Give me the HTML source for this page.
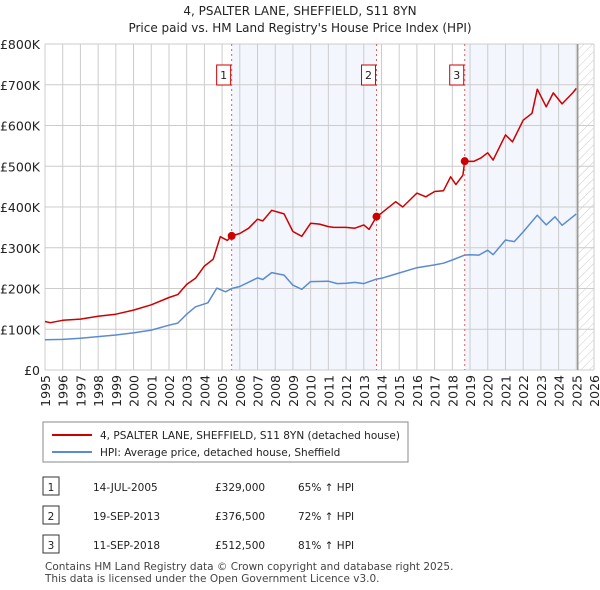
<!DOCTYPE html>
<html><head><meta charset="utf-8"><style>
body{margin:0;background:#fff;font-family:"DejaVu Sans",sans-serif;}
#wrap{position:relative;width:600px;height:590px;overflow:hidden;}
</style></head><body>
<div id="wrap">
<svg id="chart" width="600" height="590" xmlns="http://www.w3.org/2000/svg" font-family="DejaVu Sans, sans-serif">
<defs><pattern id="hatch" width="6" height="6" patternUnits="userSpaceOnUse" patternTransform="rotate(45)"><line x1="0" y1="0" x2="0" y2="6" stroke="#ccc" stroke-width="1"/></pattern></defs>
<text x="300" y="15" text-anchor="middle" font-size="12" fill="#222">4, PSALTER LANE, SHEFFIELD, S11 8YN</text>
<text x="300" y="32" text-anchor="middle" font-size="12" fill="#222">Price paid vs. HM Land Registry's House Price Index (HPI)</text>
<g id="shade"></g><g id="grid"></g><g id="axes"></g><g id="series"></g><g id="markers"></g>
<g>
<rect x="43" y="422" width="365" height="40" fill="#fff" stroke="#888"/>
<line x1="52" y1="435" x2="92" y2="435" stroke="#cc0000" stroke-width="2"/>
<text x="100" y="439" font-size="10.5" fill="#222">4, PSALTER LANE, SHEFFIELD, S11 8YN (detached house)</text>
<line x1="52" y1="452" x2="92" y2="452" stroke="#5b8bd0" stroke-width="2"/>
<text x="100" y="456" font-size="10.5" fill="#222">HPI: Average price, detached house, Sheffield</text>
</g>
<g id="table" font-size="10.5" fill="#222"></g>
<text x="45" y="570" font-size="10.5" fill="#444">Contains HM Land Registry data © Crown copyright and database right 2025.</text>
<text x="45" y="582" font-size="10.5" fill="#444">This data is licensed under the Open Government Licence v3.0.</text>
</svg>
</div>
<script>
const hpiYears=[1995,1996,1997,1998,1999,2000,2001,2002,2002.5,2003,2003.5,2004.2,2004.7,2005.2,2005.54,2006,2007,2007.3,2007.8,2008.5,2009,2009.5,2010,2011,2011.5,2012,2012.5,2013,2013.72,2014,2015,2016,2017,2017.5,2018,2018.7,2019,2019.5,2020,2020.3,2021,2021.5,2022,2022.8,2023.3,2023.8,2024.2,2025];
const hpiValues=[74,75,78,82,86,91,98,110,115,137,155,165,201,192,200,205,226,222,239,233,208,198,217,218,212,213,215,212,223,225,238,251,258,262,270,282,283,282,294,283,319,315,339,380,356,376,355,383];
const priceYears=[1995,1995.3,1996,1997,1998,1999,2000,2001,2002,2002.5,2003,2003.5,2004,2004.5,2004.9,2005.3,2005.54,2006,2006.5,2007,2007.3,2007.8,2008.5,2009,2009.5,2010,2010.5,2011,2011.3,2012,2012.5,2013,2013.3,2013.72,2014,2014.8,2015.2,2016,2016.5,2017,2017.5,2017.9,2018.2,2018.6,2018.7,2019.2,2019.6,2020,2020.3,2021,2021.4,2022,2022.5,2022.8,2023.3,2023.7,2024.2,2024.8,2025];
const priceValues=[119,116,122,125,132,137,147,160,178,185,210,225,255,272,327,318,329,335,348,370,366,392,383,340,328,360,358,352,350,350,348,356,345,376.5,385,413,400,434,425,438,440,474,455,478,512.5,512,520,533,515,577,560,613,630,689,646,680,653,680,691];
const saleYears=[2005.54,2013.72,2018.7];
const saleValues=[329,376.5,512.5];
const saleLabels=["1","2","3"];
const saleDates=["14-JUL-2005","19-SEP-2013","11-SEP-2018"];
const salePrices=["£329,000","£376,500","£512,500"];
const saleHpi=["65% ↑ HPI","72% ↑ HPI","81% ↑ HPI"];
const yTicks=[0,100,200,300,400,500,600,700,800];
const yTickLabels=["£0","£100K","£200K","£300K","£400K","£500K","£600K","£700K","£800K"];
const xTicks=[1995,1996,1997,1998,1999,2000,2001,2002,2003,2004,2005,2006,2007,2008,2009,2010,2011,2012,2013,2014,2015,2016,2017,2018,2019,2020,2021,2022,2023,2024,2025,2026];
const dataEnd=2025.08;

const X0=45,X1=594,Y0=370,Y1=44;
const xs=y=>X0+(y-1995)/(2026-1995)*(X1-X0);
const ys=v=>Y0-v/800*(Y0-Y1);
const NS="http://www.w3.org/2000/svg";
function mk(parent,tag,attrs){const e=document.createElementNS(NS,tag);for(const k in attrs)e.setAttribute(k,attrs[k]);document.getElementById(parent).appendChild(e);return e;}

let r=mk('shade','rect',{x:X0,y:Y1,width:X1-X0,height:Y0-Y1,fill:'#fff'});


r=mk('shade','rect',{x:xs(saleYears[0]),y:Y1,width:xs(saleYears[1])-xs(saleYears[0]),height:Y0-Y1,fill:'#f3f6fd'});


r=mk('shade','rect',{x:xs(saleYears[2]),y:Y1,width:xs(dataEnd)-xs(saleYears[2]),height:Y0-Y1,fill:'#f3f6fd'});


r=mk('shade','rect',{x:xs(dataEnd),y:Y1,width:X1-xs(dataEnd),height:Y0-Y1,fill:'url(#hatch)'});



yTicks.forEach((t,i)=>{
 const l=mk('grid','line',{x1:X0,x2:X1,y1:ys(t),y2:ys(t),stroke:'#ccc','stroke-width':1});
 
 
 const tx=mk('axes','text',{x:40,y:ys(t)+5,'text-anchor':'end','font-size':12.5,fill:'#222'});
 tx.textContent=yTickLabels[i];
 
 
});
xTicks.forEach(t=>{
 const l=mk('grid','line',{x1:xs(t),x2:xs(t),y1:Y1,y2:Y0,stroke:'#ccc','stroke-width':1});
 
 
 const tx=mk('axes','text',{x:0,y:0,'text-anchor':'end','font-size':12.5,fill:'#222',transform:`translate(${xs(t)+5},375) rotate(-90)`});
 tx.textContent=t;
 
 
});
let el=mk('grid','line',{x1:xs(dataEnd),x2:xs(dataEnd),y1:Y1,y2:Y0,stroke:'#999','stroke-width':1.5});



function path(xa,va){return xa.map((x,i)=>(i?'L':'M')+xs(x).toFixed(1)+','+ys(va[i]).toFixed(1)).join('');}
el=mk('series','path',{d:path(hpiYears,hpiValues),fill:'none',stroke:'#5b8bd0','stroke-width':1.5,'stroke-linejoin':'round'});


el=mk('series','path',{d:path(priceYears,priceValues),fill:'none',stroke:'#cc0000','stroke-width':1.5,'stroke-linejoin':'round'});



saleYears.forEach((y,i)=>{
 const l=mk('markers','line',{x1:xs(y),x2:xs(y),y1:Y1,y2:Y0,stroke:'#e06060','stroke-width':1,'stroke-dasharray':'2,3'});
 
 
 const c=mk('markers','circle',{cx:xs(y),cy:ys(saleValues[i]),r:4,fill:'#cc0000'});
 
 
 const b=mk('markers','rect',{x:xs(y)-15,y:65,width:14,height:20,fill:'#fff',stroke:'#cc0000'});
 
 
 const t=mk('markers','text',{x:xs(y)-8,y:79,'text-anchor':'middle','font-size':11,fill:'#222'});
 t.textContent=saleLabels[i];
 
 
});

const rowsY=[487,516,545];
saleLabels.forEach((s,i)=>{
 const yy=rowsY[i];
 const b=mk('table','rect',{x:43,y:yy-10,width:16,height:18,fill:'#fff',stroke:'#333'});
 
 
 const cells=[[51,s,'middle'],[93,saleDates[i],'start'],[215,salePrices[i],'start'],[298,saleHpi[i],'start']];
 cells.forEach(c=>{
  const t=mk('table','text',{x:c[0],y:yy+4,'text-anchor':c[2],'font-size':10.5,fill:'#222'});
  t.textContent=c[1];
  
  
 });
});
</script>
</body></html>
